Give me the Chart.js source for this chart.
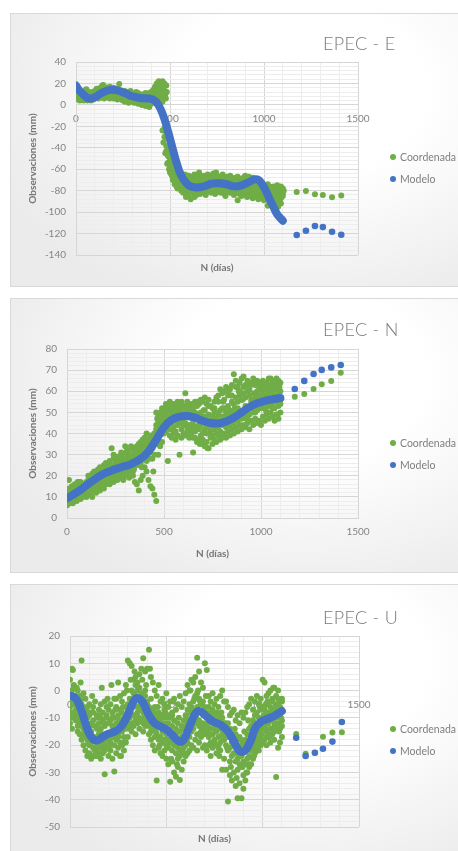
<!DOCTYPE html>
<html>
<head>
<meta charset="utf-8">
<script src="https://cdn.jsdelivr.net/npm/chart.js@4.4.1/dist/chart.umd.min.js"></script>
<style>
  html, body { margin: 0; padding: 0; background: #ffffff; }
  body { position: relative; width: 458px; height: 851px; overflow: hidden; font-family: Lato, "Open Sans", sans-serif; }
  .panel { position: absolute; left: 10px; width: 470px; box-sizing: border-box; border: 1px solid #d9d9d9;
           background: radial-gradient(ellipse 70% 85% at 62% 28%, #ffffff 38%, #ebebeb 100%); }
  canvas { position: absolute; left: 0; }
  .ttl { position: absolute; left: 323px; font-family: Lato, sans-serif; font-weight: 300; font-size: 18px; line-height: 18px;
         color: #7a7a7a; white-space: nowrap; letter-spacing: 0.3px; }
  .leg { position: absolute; left: 390px; font-size: 10.5px; line-height: 12px; color: #7f7f7f; white-space: nowrap; }
  .leg i { position: absolute; left: 0; top: 3px; width: 6px; height: 6px; border-radius: 50%; }
  .leg span { position: absolute; left: 10px; top: 0; }
</style>
</head>
<body>
<div class="panel" style="top:13px;height:274px"></div>
<div class="panel" style="top:298px;height:275px"></div>
<div class="panel" style="top:584px;height:280px"></div>
<canvas id="chartE" width="458" height="274" style="top:13px"></canvas>
<canvas id="chartN" width="458" height="275" style="top:298px"></canvas>
<canvas id="chartU" width="458" height="267" style="top:584px"></canvas>
<div class="ttl" style="top:34px">EPEC - E</div>
<div class="ttl" style="top:320px">EPEC - N</div>
<div class="ttl" style="top:608px">EPEC - U</div>
<script>
// ---- series names and colours ----
const seriesNames = ['Coordenada', 'Modelo'];
const GREEN = '#70AD47';
const BLUE = '#4472C4';
const GRID_MAJOR = '#d6d6d6';
const GRID_MINOR = '#ededed';
const TICK_COLOR = '#858585';
const AXIS_TITLE_COLOR = '#767676';

// ---- axis labels ----
const xTickLabels = [0, 500, 1000, 1500];
const xTitle = 'N (días)';
const yTitle = 'Observaciones (mm)';

// observation days (every 10 days)
const days10 = [0,10,20,30,40,50,60,70,80,90,100,110,120,130,140,150,160,170,180,190,200,210,220,230,240,250,260,270,280,290,300,310,320,330,340,350,360,370,380,390,400,410,420,430,440,450,460,470,480,490,500,510,520,530,540,550,560,570,580,590,600,610,620,630,640,650,660,670,680,690,700,710,720,730,740,750,760,770,780,790,800,810,820,830,840,850,860,870,880,890,900,910,920,930,940,950,960,970,980,990,1000,1010,1020,1030,1040,1050,1060,1070,1080,1090,1100];
// forecast days
const futureDays = [1174, 1223, 1271, 1313, 1362, 1411];

// ================= EPEC - E =================
const eObsA = [12,13,11,12,10,14,11,12,10,12, 13,15,14,16,18,17,15,16,17,15, 16,14,15,19.5,13,12,13,11,12,13, 11,10,12,11,10,9,10,11,10,11,
  12,14,17,20,22,21,22,20,18,-40, -50,-56,-62,-65,-68,-66,-64,-67,-65,-68, -66,-69,-67,-65,-68,-66,-67,-69,-66,-67,
  -65,-68,-66,-64,-67,-66,-68,-67,-65,-68, -67,-69,-66,-68,-70,-68,-67,-69,-70,-68, -66,-69,-67,-70,-68,-71,-73,-75,-74,-76,
  -75,-77,-74,-76,-78,-76,-77,-75,-78,-76, -78];
const eObsB = [9,8,7,9,7,8,6,9,8,7, 10,9,11,10,12,11,13,10,12,11, 10,12,9,11,10,8,9,7,8,6, 8,7,6,7,5,6,5,4,6,5,
  6,8,10,12,15,12,-24,-30,-38,-48, -58,-66,-70,-72,-74,-73,-75,-72,-76,-74, -77,-73,-75,-78,-74,-76,-73,-75,-77,-74,
  -72,-75,-73,-76,-74,-72,-75,-73,-76,-74, -75,-77,-74,-76,-78,-75,-77,-79,-76,-78, -75,-77,-79,-76,-78,-80,-77,-82,-80,-84,
  -82,-85,-83,-86,-84,-87,-85,-84,-86,-83, -85];
const eObsC = [6,5,4,5,4,5,4,5,4,5, 6,7,6,8,7,6,8,7,6,8, 6,7,5,6,5,4,3,4,2,3, 4,2,3,1,2,0,1,-1,0,-2,
  1,3,2,4,6,5,3,-22,-26,-32, -44,-52,-60,-67,-71,-77,-80,-82,-79,-83, -85,-88,-82,-86,-84,-81,-83,-80,-82,-84,
  -81,-79,-82,-80,-83,-81,-79,-82,-80,-83, -81,-79,-82,-80,-84,-82,-89,-83,-85,-82, -84,-86,-83,-85,-87,-84,-86,-88,-85,-87,
  -89,-86,-94,-90,-92,-89,-91,-88,-90,-87, -83];
const eObsD = [8,10,6,7,12,6,9,7,11,9, 8,12,9,13,10,14,10,13,9,14, 13,9,12,8,12,10,6,9,5,9, 6,4,9,4,7,3,7,2,8,3,
  4,10,5,8,11,17,14,8,-43,-54, -63,-61,-66,-69,-78,-70,-69,-78,-71,-79, -71,-80,-70,-72,-80,-71,-78,-72,-70,-79,
  -77,-70,-79,-71,-77,-78,-70,-78,-71,-77, -71,-73,-78,-72,-74,-80,-72,-74,-80,-72, -80,-73,-75,-81,-74,-77,-81,-80,-78,-81,
  -79,-81,-80,-92,-81,-83,-80,-87,-82,-92, -80];
const eExtraDays = [25,55,75,145,165,195,275,345,385, 436,445,452,455,458,462,465,468,472,475,478,483,
  465,475,485,495,505,515,525,535, 585,615,655,705,745,795,845,905,955,1015,1045,1075,1095,1105];
const eExtraVals = [10,14.5,7,18.5,9,14,9,8,3, 9,16,19,8,5,9,14,17,12,10,6,12,
  -35,-45,-55,-60,-64,-70,-74,-76, -86,-80,-63,-78,-63,-85,-73,-72,-81,-79,-80,-95,-78,-80];
const eFutureObs = [-81.3, -80.3, -83.4, -84, -86.2, -84.4];
const eModelDays = [0,20,40,60,80,110,140,180,220,260,300,340,380,410,430,450,470,490,510,530,550,570,600,640,680,720,760,800,840,880,920,950,970,990,1010,1030,1050,1070,1100];
const eModelVals = [18,13,9.5,6.5,6,8,11.5,14,13.5,11,8,6.5,6,5,2,-4,-13,-25,-38,-51,-62,-69,-75,-77,-76,-73.5,-73,-74,-76,-75,-72,-69.5,-70,-74,-80,-88,-95,-102,-108];
const eFutureModel = [-121.4, -117.4, -113, -114, -118.3, -121.1];

// ================= EPEC - N =================
const nObsA = [13,18,14,15,13,16,17,15,16,15,17, 20,18,21,22,20,23,24,22,25,26, 24,27,33,28,26,29,27,30,28,34,
  30,32,29,33,31,34,33,36,35,38, 40,37,39,38,36,44,48,50,52,51, 54,53,55,52,54,53,55,52,54,53,
  59,55,53,54,52,55,53,54,56,55, 57,54,56,53,52,55,57,58,61,59, 60,62,58,61,63,68,65,62,64,66,
  67,63,65,62,64,66,63,65,64,62, 65,63,64,66,63,65,64,66,65,64];
const nObsB = [11,12,10,13,12,14,13,15,14,16,15, 17,16,18,19,17,20,21,19,22,21, 23,22,24,25,23,26,25,27,26,28,
  27,29,28,30,29,31,30,33,32,34, 35,34,36,38,40,42,45,47,48,49, 50,48,51,49,52,50,48,51,49,50,
  51,49,50,48,46,50,47,49,48,46, 48,47,49,46,48,50,47,49,51,48, 52,50,53,51,55,54,57,55,58,56,
  59,57,60,58,56,59,57,60,58,61, 60,58,61,59,62,60,58,61,59,60];
const nObsC = [8,9,11,10,9,11,12,11,13,12,13, 14,15,14,16,15,17,16,18,17,19, 20,19,21,20,22,21,23,22,21,23,
  24,23,25,24,26,25,27,26,28,29, 30,32,31,33,35,38,40,42,44,45, 46,44,47,45,43,46,44,45,42,44,
  45,43,44,42,44,41,43,42,44,40, 42,40,43,41,39,42,40,43,41,44, 45,43,46,44,47,45,48,46,49,47,
  50,48,51,49,52,50,53,51,54,52, 54,52,55,53,56,54,52,55,53,54];
const nObsD = [6,7,8,7,9,8,10,9,10,11,10, 11,12,10,13,12,14,13,15,14,16, 17,16,18,17,19,18,20,19,18,20,
  21,19,22,20,17,16,13,18,20,24, 22,18,15,14,11,8,30,34,36,40, 41,27,42,38,40,37,39,30,38,40,
  39,41,38,40,31,38,36,37,39,35, 34,36,33,38,35,37,36,39,37,38, 40,38,41,39,42,40,43,41,44,42,
  44,43,45,42,46,44,47,45,46,44, 48,46,49,47,50,48,46,49,47,50];
const nObsE = [10,14,9,12,16,10,13,17,12,14,12, 18,13,17,20,14,18,22,16,20,24, 18,25,20,30,21,27,22,31,24,26,
  32,26,34,22,33,27,35,29,37,31, 27,36,33,28,30,50,35,45,40,47, 48,52,39,54,47,41,52,46,55,47,
  48,53,40,51,38,47,55,44,50,37, 51,44,53,39,46,52,43,55,46,52, 56,47,60,49,58,50,62,52,60,50,
  62,53,48,61,55,64,50,58,62,56, 57,63,50,58,66,52,62,57,64,56];
const nExtraDays = [5,15,25,35,45,55,65,75,105,125,145,165,185,205,245,265,285,305,325,345,365,385,405,425,445,
  465,475,485,495,505,515,535,555,575,595,615,635,665,685,705,725,745,765,785,805,825,845,865,885,905,925,945,965,985,1005,1025,1045,1065,1085,1095];
const nExtraVals = [12,7,15,9,13,17,10,14,13,19,14,21,16,25,19,29,21,31,27,23,31,24,34,28,22,
  47,43,48,46,52,43,51,41,53,45,52,39,49,35,51,33,44,50,40,55,48,58,52,60,56,47,63,53,46,58,51,62,57,49,62];
const nFutureObs = [57.4, 58.7, 61.1, 63.3, 64.9, 68.8];
const nModelDays = [0,40,80,130,180,230,280,330,380,420,460,500,540,580,620,660,700,740,780,820,860,900,940,980,1020,1060,1100];
const nModelVals = [9.3,11.5,14,17.5,20.5,22.5,24,25.5,28,31.5,37,43,46.5,48,48.3,47.5,46,45,44.8,45.7,47.5,50,52.5,54.3,55.4,56.2,56.8];
const nFutureModel = [61.1, 64.9, 68.2, 70.1, 71.3, 72.4];

// ================= EPEC - U =================
const uObsA = [4,8,2,1,0,-2,11,-1,-3,-6,-5, -8,-6,-4,-9,-7,-5,-8,-4,-6,-7, -5,-8,-3,-6,3,-2,-4,-1,2,11,
  10,9,4,2,3,6,8,11.8,7,8, 15,5,3,0,-2,2,-4,-3,-5,-1, -6,-4,-8,-3,-7,-5,-2,-6,-4,-1,
  2,0,4,3,5,12,7,3,1,10, 7.5,-2,-4,-1,-5,-3,-6,-2,0,-4, -4,-6,-9,-8,-7,-11,-9,-12,-8,-10,
  -8,-6,-5,-3,-7,-4,-2,-5,-3,4, 3,-2,-1,0,-3,1,-2,0,-4,-3];
const uObsB = [-1,0,-3,-2,-5,-4,-3,-6,-8,-10,-9, -12,-11,-13,-10,-12,-14,-11,-13,-10,-12, -11,-13,-10,-12,-9,-11,-8,-10,-6,-5,
  -3,-5,-1,-2,0,-3,-1,-4,-2,-5, -6,-8,-7,-9,-10,-8,-11,-9,-12,-10, -12,-10,-13,-11,-14,-12,-15,-13,-11,-9,
  -7,-5,-8,-4,-2,-6,-3,-5,-4,-6, -8,-6,-9,-7,-10,-8,-11,-9,-10,-12, -13,-15,-14,-17,-16,-19,-18,-17,-20,-19,
  -18,-16,-14,-13,-11,-9,-8,-10,-7,-6, -7,-5,-8,-6,-4,-7,-5,-3,-6,-4];
const uObsC = [-6,-8,-5,-9,-10,-12,-13,-14,-16,-18,-20, -19,-21,-22,-20,-23,-21,-19,-22,-20,-18, -19,-17,-20,-18,-16,-19,-15,-17,-14,-12,
  -10,-12,-9,-11,-8,-10,-7,-12,-9,-11, -13,-15,-14,-17,-16,-18,-17,-19,-18,-20, -21,-19,-22,-20,-23,-21,-24,-22,-21,-20,
  -19,-17,-15,-14,-12,-16,-13,-15,-14,-16, -15,-17,-14,-16,-18,-15,-17,-19,-16,-18, -20,-22,-21,-24,-23,-26,-25,-27,-28,-26,
  -27,-25,-24,-22,-20,-18,-17,-15,-16,-14, -13,-15,-12,-14,-11,-13,-10,-12,-14,-11];
const uObsD = [-12,-14,-9,-11,-15,-16,-18,-20,-22,-24,-23, -25,-24,-22,-24,-21,-25,-23,-30.7,-21,-24, -22,-25,-29.7,-23,-21,-24,-20,-22,-19,-17,
  -14,-15,-13,-16,-12,-14,-11,-15,-13,-12, -16,-18,-20,-22,-33,-21,-23,-24,-22,-25, -27,-33.4,-26,-30,-31.6,-28,-32.8,-29,-26,-24,
  -23,-22,-20,-21,-18,-22,-19,-17,-21,-20, -22,-20,-24,-21,-19,-23,-20,-22,-29,-25, -29,-40.7,-31,-33,-30,-35,-39.5,-34,-39.5,-36,
  -33,-30,-28,-27,-25,-23,-21,-22,-20,-19, -18,-20,-17,-19,-16,-18,-31.7,-21,-19,-17];
const uObsE = [-4,-10,1,-7,-13,-9,-5,-17,-12,-15,-19, -15,-8,-18,-14,-16,-10,-20,-16,-9,-21, -16,-10,-15,-3,-17,-7,-13,-19,-9,-7,
  -7,0,-12,5,-6,1,-3,-8,0,-4, -10,-3,-12,-6,-13,-11,-9,-15,-7,-16, -18,-15,-9,-19,-16,-25,-19,-17,-23,-13,
  -11,-14,-6,-10,-9,-1,-11,-8,-12,-9, -13,-10,-19,-12,-14,-11,-21,-14,-12,-15, -17,-12,-26,-19,-20,-16,-29,-22,-24,-31,
  -22,-19,-27,-17,-22,-13,-19,-12,-18,-10, -9,-17,-10,-16,-7,-15,-14,-8,-10,-13];
const uExtraDays = [5,15,25,35,45,55,65,75,85,95,105,115,125,135,145,155,165,175,185,195,205,215,225,235,245,255,265,275,285,295,
  305,315,325,335,345,355,365,375,385,395,405,415,425,435,445,455,465,475,485,495,505,515,525,535,545,555,565,575,585,595,
  605,615,625,635,645,655,665,675,685,695,705,715,725,735,745,755,765,775,785,795,805,815,825,835,845,855,865,875,885,895,
  905,915,925,935,945,955,965,975,985,995,1005,1015,1025,1035,1045,1055,1065,1075,1085,1095];
const uExtraVals = [-5,7.5,-8,1,-11,3,-2,-15,-7,-19,-13,-2,-17,-24,-9,-15,1,-12,-18,-3,-20,2,-14,-7,-17,-11,-24,-6,-13,0,
  -8,4,-6,7,-9,1,-5,4,-10,2,-6,8,-11,-8,-15,-6,-20,-10,-15,-8,-18,-9,-25,-4,-16,-27,-10,-22,-14,-17,
  -9,-12,0,-7,-3,-10,0,-4,-13,-7,-2,-12,-16,-8,-20,-10,-14,-24,-8,-18,-12,-21,-17,-28,-20,-14,-32,-24,-18,-28,
  -15,-30,-11,-20,-13,-24,-9,-20,-6,-16,-9,-14,-4,-17,-8,1,-12,-6,-15,-10];
const uFutureObs = [-15.9, -23.2, -22.8, -16.9, -15.4, -15.3];
const uModelDays = [0,20,40,60,80,100,120,140,170,200,240,270,300,320,340,360,380,410,440,480,510,540,570,590,610,630,650,670,700,740,780,820,850,875,895,915,940,960,990,1020,1060,1100];
const uModelVals = [-2,-2.3,-4,-7.5,-12,-15.8,-17.8,-18.3,-17,-15.8,-14.8,-12.8,-9,-5.5,-3,-3,-4.5,-9,-12,-13.5,-14.8,-17,-18.8,-18,-15,-11.5,-8.5,-7.5,-9,-11.3,-12.5,-15,-18.5,-21.8,-22.5,-21.5,-18,-14,-11.5,-10.5,-9.3,-7.5];
const uFutureModel = [-17.3, -24, -22.8, -21.3, -18.7, -11.5];

// ---- helpers ----
const toPoints = (xs, ys) => xs.map((x, i) => ({ x: x, y: ys[i] }));

Chart.defaults.font.family = 'Lato, "Open Sans", sans-serif';
Chart.defaults.font.size = 10;

function makeChart(id, spec) {
  const obs = [].concat(
    ...spec.obsRows.map(r => toPoints(days10, r)),
    toPoints(spec.extraDays, spec.extraVals),
    toPoints(futureDays, spec.futureObs)
  );
  const gridColor = major => ctx => (ctx.tick && Math.abs(ctx.tick.value % major) < 1e-9) ? GRID_MAJOR : GRID_MINOR;
  return new Chart(document.getElementById(id), {
    type: 'scatter',
    data: {
      datasets: [
        { label: seriesNames[0], data: obs, backgroundColor: GREEN, borderWidth: 0, pointRadius: 3, order: 3 },
        { label: seriesNames[1], data: toPoints(spec.modelDays, spec.modelVals), showLine: true, fill: false,
          borderColor: BLUE, borderWidth: 8, borderCapStyle: 'round', borderJoinStyle: 'round',
          tension: 0.4, pointRadius: 0, order: 1 },
        { label: seriesNames[1], data: toPoints(futureDays, spec.futureModel), backgroundColor: BLUE,
          borderWidth: 0, pointRadius: 3.3, order: 2 }
      ]
    },
    options: {
      responsive: false,
      animation: false,
      events: [],
      layout: { padding: { left: 0, top: spec.top, right: 458 - spec.right, bottom: spec.padBottom } },
      plugins: { legend: { display: false }, tooltip: { enabled: false }, title: { display: false } },
      scales: {
        x: {
          type: 'linear', min: 0, max: 1500, position: { y: 0 },
          ticks: { stepSize: 100, autoSkip: false, maxTicksLimit: 1000, maxRotation: 0, minRotation: 0, padding: 8,
                   color: TICK_COLOR, font: { size: 10 },
                   callback: v => (xTickLabels.includes(v) ? String(v) : '') },
          grid: { drawTicks: false, color: gridColor(500), lineWidth: 1 },
          border: { color: GRID_MAJOR }
        },
        xTitle: {
          type: 'linear', position: 'bottom', display: true,
          afterFit: s => { s.height = spec.titleBand; },
          ticks: { display: false }, grid: { display: false }, border: { display: false },
          title: { display: true, text: xTitle, color: AXIS_TITLE_COLOR, font: { size: 10, weight: 'bold' }, padding: 0 }
        },
        y: {
          type: 'linear', min: spec.yMin, max: spec.yMax, position: 'left',
          afterFit: s => { s.width = spec.left; },
          ticks: { stepSize: spec.minor, autoSkip: false, maxTicksLimit: 1000, padding: 10,
                   color: TICK_COLOR, font: { size: 10 },
                   callback: v => (Math.abs(v % spec.major) < 1e-9 ? String(v) : '') },
          grid: { drawTicks: false, color: gridColor(spec.major), lineWidth: 1 },
          border: { color: GRID_MAJOR },
          title: { display: true, text: yTitle, color: AXIS_TITLE_COLOR, font: { size: 10, weight: 'bold' },
                   padding: { top: 27, bottom: 0 } }
        }
      }
    }
  });
}

function makeLegend(top) {
  const colors = [GREEN, BLUE];
  seriesNames.forEach((name, i) => {
    const row = document.createElement('div');
    row.className = 'leg';
    row.style.top = (top + i * 21.5) + 'px';
    const dot = document.createElement('i');
    dot.style.background = colors[i];
    const txt = document.createElement('span');
    txt.textContent = name;
    row.appendChild(dot);
    row.appendChild(txt);
    document.body.appendChild(row);
  });
}

makeChart('chartE', { obsRows: [eObsA, eObsB, eObsC, eObsD], extraDays: eExtraDays, extraVals: eExtraVals, futureObs: eFutureObs,
  modelDays: eModelDays, modelVals: eModelVals, futureModel: eFutureModel,
  yMin: -140, yMax: 40, minor: 4, major: 20, left: 76, right: 358, top: 49, titleBand: 19, padBottom: 13 });
makeChart('chartN', { obsRows: [nObsA, nObsB, nObsC, nObsD, nObsE], extraDays: nExtraDays, extraVals: nExtraVals, futureObs: nFutureObs,
  modelDays: nModelDays, modelVals: nModelVals, futureModel: nFutureModel,
  yMin: 0, yMax: 80, minor: 2, major: 10, left: 67, right: 358, top: 51, titleBand: 42, padBottom: 13 });
makeChart('chartU', { obsRows: [uObsA, uObsB, uObsC, uObsD, uObsE], extraDays: uExtraDays, extraVals: uExtraVals, futureObs: uFutureObs,
  modelDays: uModelDays, modelVals: uModelVals, futureModel: uFutureModel,
  yMin: -50, yMax: 20, minor: 2, major: 10, left: 70, right: 359, top: 52, titleBand: 18, padBottom: 6 });

makeLegend(151);
makeLegend(437);
makeLegend(723);
</script>
</body>
</html>
